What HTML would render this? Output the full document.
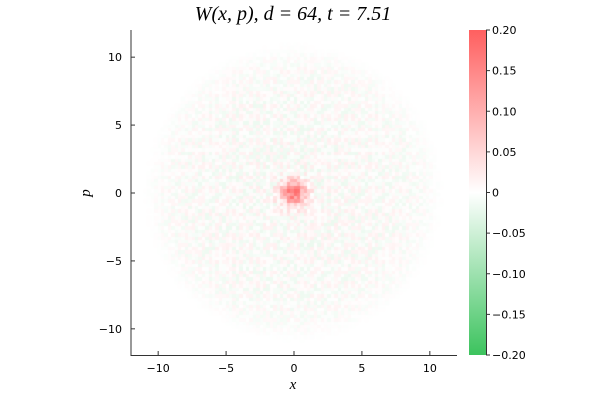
<!DOCTYPE html>
<html><head><meta charset="utf-8">
<style>
html,body{margin:0;padding:0;background:#fff;width:600px;height:400px;overflow:hidden}
svg{position:absolute;left:0;top:0}
canvas{position:absolute}
text{font-family:"DejaVu Sans","Liberation Sans",sans-serif;font-size:11px;fill:#000}
</style></head><body>
<canvas id="heat" width="326" height="326" style="left:131px;top:30px"></canvas>
<svg id="svg" width="600" height="400">
<defs><linearGradient id="cb" x1="0" y1="1" x2="0" y2="0">
<stop offset="0" stop-color="#3cc35e"/><stop offset="0.5" stop-color="#ffffff"/><stop offset="1" stop-color="#ff5f5f"/>
</linearGradient></defs>
<text x="293" y="20" text-anchor="middle" style="font-family:'Liberation Serif',serif;font-size:20px;font-style:italic">W(x, p), d = 64, t = 7.51</text>
<line x1="131" y1="30" x2="131" y2="356" stroke="#333" stroke-width="1"/>
<line x1="131" y1="355.5" x2="457" y2="355.5" stroke="#333" stroke-width="1"/>
<g id="xt"></g><g id="yt"></g>
<text x="293" y="389" text-anchor="middle" style="font-family:'Liberation Serif',serif;font-size:15px;font-style:italic">x</text>
<text x="90" y="193" text-anchor="middle" transform="rotate(-90 90 193)" style="font-family:'Liberation Serif',serif;font-size:15px;font-style:italic">p</text>
<rect x="469" y="30" width="17" height="325" fill="url(#cb)"/>
<line x1="486.5" y1="30" x2="486.5" y2="355" stroke="#333"/>
<g id="ct"></g>
</svg>
<script>
const xTicks=[-10,-5,0,5,10];
const yTicks=[-10,-5,0,5,10];
const cbTicks=[-0.20,-0.15,-0.10,-0.05,0,0.05,0.10,0.15,0.20];
const cbLabels=["\u22120.20","\u22120.15","\u22120.10","\u22120.05","0","0.05","0.10","0.15","0.20"];
const centerPeak=[0.17,0.65]; // value, width
const radialR=[0,1,2,3,4,5,6,7,8,9,10,10.5,11];
const radialAmp=[0.05,0.035,0.025,0.022,0.022,0.02,0.02,0.02,0.018,0.016,0.01,0.004,0];
const gridN=96;
const texture=[0.6,-0.4,0.8,-0.7,0.3,-0.9,0.5,0.1,-0.5,0.9,-0.2,0.4,-0.8,0.7,-0.3,0.2,0.9,-0.6,0.5,-0.1,0.7,-0.5,0.3,0.8,-0.9,0.4,-0.2,0.6,0.1,-0.7,0.9,-0.3,0.5,-0.6,0.2,0.8,-0.4,0.7,-0.8,0.3,0.6,-0.1,0.4,-0.9,0.8,0.2,-0.5,0.7,-0.3];
const cellValues=[];
for(let i=0;i<gridN;i++){for(let j=0;j<gridN;j++){cellValues.push(texture[(i*i*3+j*j*5+i*j+i*13)%texture.length]);}}
const X0=131,X1=457,Y0=356,Y1=30,LO=-12,HI=12;
const sx=v=>X0+(v-LO)/(HI-LO)*(X1-X0);
const sy=v=>Y0-(v-LO)/(HI-LO)*(Y0-Y1);
const cbY=v=>355-(v+0.2)/0.4*325;
const NS="http://www.w3.org/2000/svg";
function mk(tag,attrs,parent,txt){const e=document.createElementNS(NS,tag);for(const k in attrs)e.setAttribute(k,attrs[k]);if(txt!==undefined)e.textContent=txt;parent.appendChild(e);return e;}
const xt=document.getElementById('xt'),yt=document.getElementById('yt'),ct=document.getElementById('ct');
xTicks.forEach(v=>{const l=mk('line',{x1:sx(v),x2:sx(v),y1:355,y2:351,stroke:'#333'},xt);


const t=mk('text',{x:sx(v),y:372,'text-anchor':'middle'},xt,v<0?'\u2212'+(-v):String(v));

});
yTicks.forEach(v=>{const l=mk('line',{x1:131,x2:135,y1:sy(v),y2:sy(v),stroke:'#333'},yt);


const t=mk('text',{x:122,y:sy(v)+4,'text-anchor':'end'},yt,v<0?'\u2212'+(-v):String(v));

});
cbTicks.forEach((v,i)=>{const l=mk('line',{x1:486,x2:490,y1:cbY(v),y2:cbY(v),stroke:'#333'},ct);


const t=mk('text',{x:492,y:cbY(v)+4},ct,cbLabels[i]);

});
function color(v){v=Math.max(-0.2,Math.min(0.2,v));const f=Math.abs(v)/0.2;
const c=v>=0?[255,95,95]:[60,195,94];
return 'rgb('+Math.round(255+(c[0]-255)*f)+','+Math.round(255+(c[1]-255)*f)+','+Math.round(255+(c[2]-255)*f)+')';}
function amp(r){for(let k=0;k<radialR.length-1;k++){if(r<=radialR[k+1]){const t=(r-radialR[k])/(radialR[k+1]-radialR[k]);return radialAmp[k]+(radialAmp[k+1]-radialAmp[k])*t;}}return 0;}
const cv=document.getElementById('heat').getContext('2d');
const cell=24/gridN;
for(let i=0;i<gridN;i++){for(let j=0;j<gridN;j++){
const x=LO+(j+0.5)*cell,p=HI-(i+0.5)*cell,r=Math.hypot(x,p);
let v=cellValues[i*gridN+j]*amp(r);
v+=centerPeak[0]*Math.exp(-(r*r)/(2*centerPeak[1]*centerPeak[1]));
cv.fillStyle=color(v);
const px=sx(x-cell/2)-X0,py=sy(p+cell/2)-Y1;
cv.fillRect(Math.floor(px),Math.floor(py),Math.ceil(cell*326/24)+1,Math.ceil(cell*326/24)+1);}}
</script>
</body></html>
